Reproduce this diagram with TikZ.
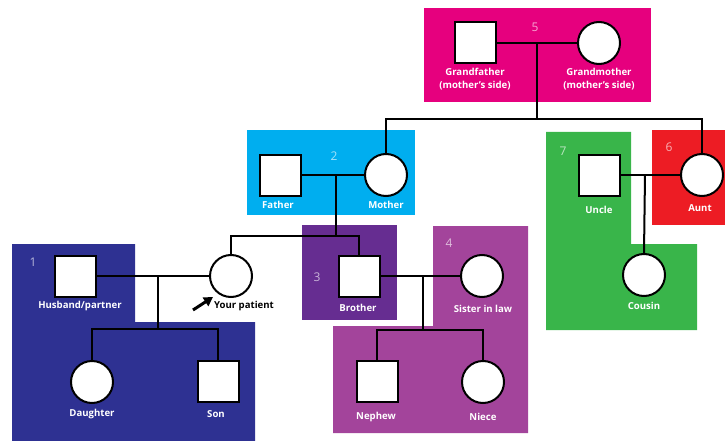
\documentclass[tikz,border=0pt]{standalone}
\usepackage{fontspec}
\setmainfont{Open Sans}
\usetikzlibrary{arrows.meta}
\definecolor{cnavy}{HTML}{2E3192}
\definecolor{cmag}{HTML}{E6007E}
\definecolor{ccyan}{HTML}{00AEEF}
\definecolor{cpurp}{HTML}{662D91}
\definecolor{corch}{HTML}{A3449B}
\definecolor{cgreen}{HTML}{39B54A}
\definecolor{cred}{HTML}{ED1C24}
\tikzset{
  male/.style={draw=black, fill=white, line width=2pt, minimum size=41pt, inner sep=0pt, rectangle},
  female/.style={draw=black, fill=white, line width=2pt, minimum size=42pt, inner sep=0pt, circle},
  rel/.style={draw=black, line width=2pt},
  lbl/.style={text=white, font=\fontsize{9.6}{13}\selectfont\bfseries, align=center, inner sep=0pt},
  num/.style={text=white, opacity=0.65, font=\fontsize{12}{13}\selectfont, inner sep=0pt},
}
\begin{document}
\begin{tikzpicture}[x=1pt, y=-1pt]
\useasboundingbox (0,0) rectangle (725,441);
% regions
\fill[cnavy] (12,244) -- (135,244) -- (135,322) -- (255,322) -- (255,441) -- (12,441) -- cycle;
\fill[cmag] (424,8) rectangle (651,102);
\fill[ccyan] (247,130) rectangle (415,215);
\fill[cpurp] (302,225) rectangle (397,320);
\fill[corch] (433,226) -- (528,226) -- (528,433) -- (333,433) -- (333,326) -- (433,326) -- cycle;
\fill[cgreen] (546,132) -- (631,132) -- (631,244) -- (697,244) -- (697,330) -- (546,330) -- cycle;
\fill[cred] (652,130) rectangle (725,225);
% numbers
\node[num] (n5) at (535,27) {5};
\node[num] (n2) at (334,156) {2};
\node[num] (n7) at (563,151) {7};
\node[num] (n6) at (669,147) {6};
\node[num] (n1) at (33,262) {1};
\node[num] (n3) at (317,277) {3};
\node[num] (n4) at (449,243) {4};
% coordinates
\coordinate (m5) at (537,43);
\coordinate (c5) at (537,119);
\coordinate (m2) at (336,175);
\coordinate (c2) at (336,236);
\coordinate (m7) at (645,175);
\coordinate (m1) at (158,276);
\coordinate (c1) at (158,329);
\coordinate (m3) at (423,276);
\coordinate (c3) at (423,330);
% people
\node[male] (gf) at (475,43) {};
\node[female] (gm) at (599,43) {};
\node[male] (father) at (280,175) {};
\node[female] (mother) at (386,175) {};
\node[male] (uncle) at (599,175) {};
\node[female] (aunt) at (702,175) {};
\node[female] (cousin) at (644,275) {};
\node[male] (husband) at (75,276) {};
\node[female] (patient) at (231,276) {};
\node[male] (brother) at (359,276) {};
\node[female] (sil) at (482,276) {};
\node[female] (daughter) at (92,382) {};
\node[male] (son) at (218,381) {};
\node[male] (nephew) at (377,381) {};
\node[female] (niece) at (483,382) {};
% relations
\draw[rel] (gf.east) -- (gm.west);
\draw[rel] (m5) -- (c5);
\draw[rel] (mother.north) |- (c5) -| (aunt.north);
\draw[rel] (father.east) -- (mother.west);
\draw[rel] (m2) -- (c2);
\draw[rel] (patient.north) |- (c2) -| (brother.north);
\draw[rel] (uncle.east) -- (aunt.west);
\draw[rel] (m7) -- (cousin.north);
\draw[rel] (husband.east) -- (patient.west);
\draw[rel] (m1) -- (c1);
\draw[rel] (daughter.north) |- (c1) -| (son.north);
\draw[rel] (brother.east) -- (sil.west);
\draw[rel] (m3) -- (c3);
\draw[rel] (nephew.north) |- (c3) -| (niece.north);
% labels
\node[lbl] (lgf) at (475,79) {Grandfather\\(mother's side)};
\node[lbl] (lgm) at (599,79) {Grandmother\\(mother's side)};
\node[lbl] (lfather) at (278,205) {Father};
\node[lbl] (lmother) at (386,205) {Mother};
\node[lbl] (luncle) at (599,210) {Uncle};
\node[lbl] (launt) at (700,208) {Aunt};
\node[lbl] (lcousin) at (644,306) {Cousin};
\node[lbl] (lhusband) at (80,306) {Husband/partner};
\node[lbl] (lbrother) at (358,308) {Brother};
\node[lbl] (lsil) at (483,309) {Sister in law};
\node[lbl] (ldaughter) at (92,414) {Daughter};
\node[lbl] (lson) at (216,414) {Son};
\node[lbl] (lnephew) at (376,417) {Nephew};
\node[lbl] (lniece) at (483,417) {Niece};
\node[lbl, text=black] (lpatient) at (244,306) {Your patient};
\coordinate (arrS) at (193,310);
\coordinate (arrE) at (213,297);
\draw[line width=3pt, -{Triangle[length=9pt,width=10pt]}] (arrS) -- (arrE);
\end{tikzpicture}
\end{document}
